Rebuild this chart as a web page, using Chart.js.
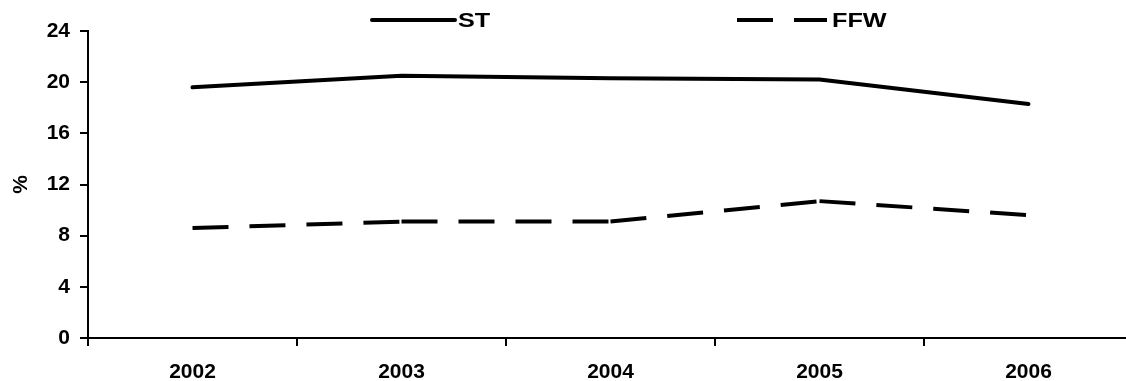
<!DOCTYPE html>
<html>
<head>
<meta charset="utf-8">
<script src="https://cdn.jsdelivr.net/npm/chart.js@4/dist/chart.umd.min.js"></script>
<style>
  html, body { margin: 0; padding: 0; background: #fff; overflow: hidden; }
  #wrap { position: absolute; left: 0; top: 0; width: 1140px; height: 381px; }
</style>
</head>
<body>
<div id="wrap"><canvas id="chart"></canvas></div>
<script>
// Years on the category axis
const years = ['2002', '2003', '2004', '2005', '2006'];
// Percentages per year
const stValues = [19.6, 20.5, 20.3, 20.2, 18.3];
const ffwValues = [8.6, 9.1, 9.1, 10.7, 9.6];
// Value axis ticks
const yTicks = [0, 4, 8, 12, 16, 20, 24];

const FONT = "'Liberation Sans', Arial, sans-serif";

// Legend drawn as a single row across the top, line sample followed by the label
const topLegend = {
  id: 'topLegend',
  afterDraw(chart) {
    const ctx = chart.ctx;
    const y = 20;
    const slots = [
      { x0: 372, x1: 455, tx: 458 },
      { x0: 737, x1: 827, tx: 832 }
    ];
    chart.data.datasets.forEach((ds, i) => {
      const s = slots[i];
      ctx.save();
      ctx.strokeStyle = ds.borderColor;
      ctx.lineWidth = ds.borderWidth;
      ctx.lineCap = ds.borderCapStyle;
      ctx.setLineDash(ds.borderDash || []);
      ctx.beginPath();
      ctx.moveTo(s.x0, y);
      ctx.lineTo(s.x1, y);
      ctx.stroke();
      ctx.setLineDash([]);
      ctx.fillStyle = '#000';
      ctx.font = 'bold 21px ' + FONT;
      ctx.textAlign = 'left';
      ctx.textBaseline = 'middle';
      ctx.translate(s.tx, y + 1);
      ctx.scale(1.2, 1);
      ctx.fillText(ds.label, 0, 0);
      ctx.restore();
    });
  }
};

new Chart(document.getElementById('chart'), {
  type: 'line',
  data: {
    labels: years,
    datasets: [
      {
        label: 'ST',
        data: stValues,
        borderColor: '#000',
        borderWidth: 4,
        borderCapStyle: 'round',
        borderJoinStyle: 'round',
        pointRadius: 0,
        tension: 0,
        fill: false
      },
      {
        label: 'FFW',
        data: ffwValues,
        borderColor: '#000',
        borderWidth: 4,
        borderDash: [36, 21],
        borderCapStyle: 'butt',
        borderJoinStyle: 'miter',
        pointRadius: 0,
        tension: 0,
        fill: false,
        // restart the dash pattern at each year
        segment: { borderDashOffset: c => c.p0DataIndex * 0.001 }
      }
    ]
  },
  options: {
    responsive: true,
    maintainAspectRatio: false,
    devicePixelRatio: 1,
    animation: false,
    layout: { padding: { top: 31, right: 7, bottom: 0, left: 0 } },
    plugins: {
      legend: { display: false },
      tooltip: { enabled: false }
    },
    scales: {
      x: {
        type: 'category',
        offset: true,
        grid: {
          offset: true,
          drawOnChartArea: false,
          drawTicks: true,
          tickLength: 8,
          color: '#000',
          lineWidth: 2
        },
        border: { display: true, color: '#000', width: 2 },
        ticks: {
          color: '#000',
          padding: 14,
          maxRotation: 0,
          font: { family: FONT, size: 21, weight: 'bold' }
        },
        afterFit(scale) { scale.height = 43; }
      },
      y: {
        min: 0,
        max: 24,
        afterBuildTicks(scale) { scale.ticks = yTicks.map(v => ({ value: v })); },
        grid: {
          drawOnChartArea: false,
          drawTicks: true,
          tickLength: 8,
          color: '#000',
          lineWidth: 2
        },
        border: { display: true, color: '#000', width: 2 },
        ticks: {
          color: '#000',
          padding: 10,
          font: { family: FONT, size: 21, weight: 'bold' }
        },
        title: {
          display: true,
          text: '%',
          color: '#000',
          padding: { top: 9, bottom: 0 },
          font: { family: FONT, size: 21, weight: 'bold' }
        },
        afterFit(scale) { scale.width = 88; }
      }
    }
  },
  plugins: [topLegend]
});
</script>
</body>
</html>
